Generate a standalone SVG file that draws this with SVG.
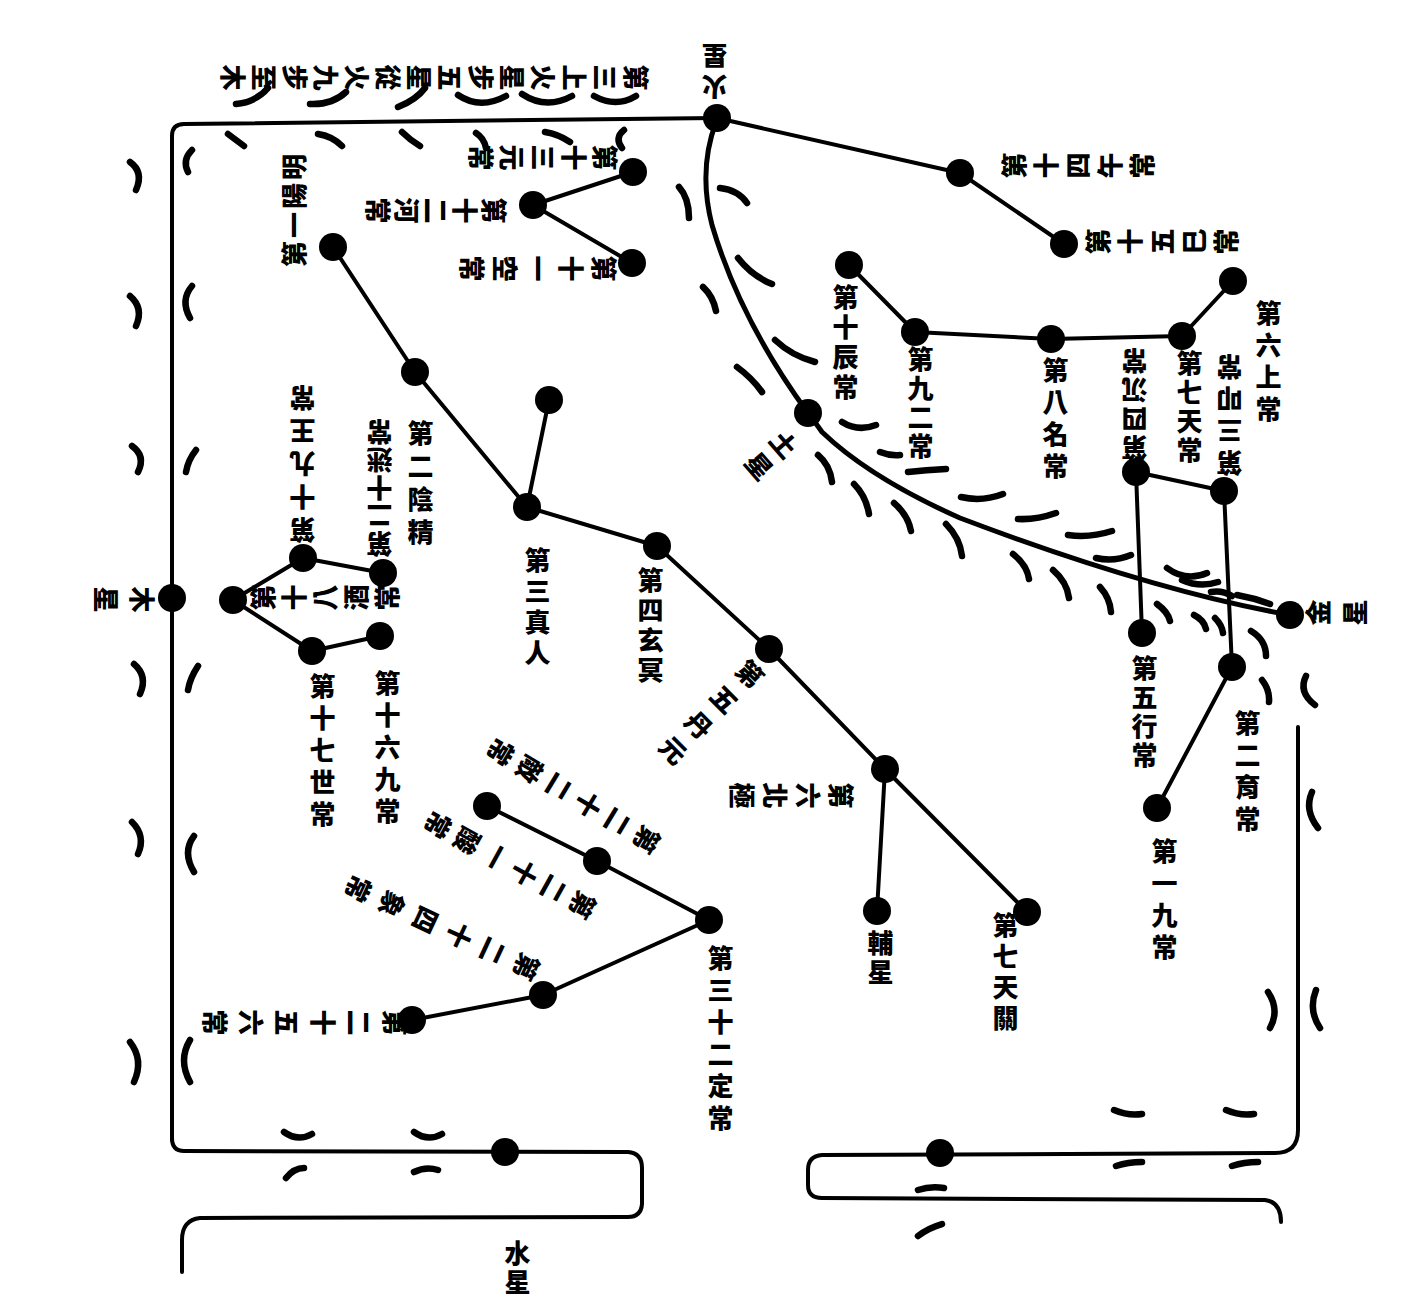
<svg xmlns="http://www.w3.org/2000/svg" width="1424" height="1300" viewBox="0 0 1424 1300">
<style>
.ln{stroke:#000;stroke-width:4;fill:none;stroke-linecap:round;stroke-linejoin:round}
.cv{stroke:#000;stroke-width:5;fill:none;stroke-linecap:round}
.mk{stroke:#000;stroke-width:6.5;fill:none;stroke-linecap:round}
.nd{fill:#000}
.t{font-family:'Liberation Sans','Noto Sans CJK TC',sans-serif;font-weight:900;font-size:26px;fill:#000}
.v{writing-mode:vertical-rl}
.h{dominant-baseline:central}
</style>
<rect width="1424" height="1300" fill="#fff"/>
<g id="connectors">
<path class="ln" d="M172,1140 L172,136 Q172,124 184,124 L717,118"/>
<path class="ln" d="M172,1138 Q172,1151 184,1151 L628,1152 Q642,1153 642,1168 L642,1204 Q641,1217 628,1217 L200,1218 Q182,1220 182,1240 L182,1272"/>
<path class="ln" d="M1298,727 L1298,1130 Q1298,1153 1275,1153 L822,1155 Q808,1156 808,1170 L808,1185 Q808,1198 822,1198 L1265,1200 Q1281,1202 1281,1222"/>
<path class="ln" d="M717,118 L960,173 L1064,244"/>
<path class="cv" d="M716,122 Q698,170 712,225 Q740,320 808,413"/>
<path class="cv" d="M808,413 Q815,422 822,432 Q870,478 960,518 Q1150,590 1290,615"/>
<path class="ln" d="M849,265 L915,332 L1051,339 L1182,336 L1233,281"/>
<path class="ln" d="M1142,633 L1136,472 L1224,491 L1232,667 L1157,808"/>
<path class="ln" d="M633,172 L533,205 L632,263"/>
<path class="ln" d="M333,247 L415,372 L527,507 L657,546 L769,649 L885,769 L1027,912"/>
<path class="ln" d="M527,507 L549,400"/>
<path class="ln" d="M885,769 L877,911"/>
<path class="ln" d="M303,558 L233,600 L312,651 L380,636"/>
<path class="ln" d="M303,558 L383,573"/>
<path class="ln" d="M487,806 L597,861 L709,920 L543,995 L412,1020"/>
</g>
<g id="marks">
<path class="mk" d="M236,104 Q256,102 268,88"/>
<path class="mk" d="M310,104 Q332,105 346,92"/>
<path class="mk" d="M398,107 Q416,100 425,88"/>
<path class="mk" d="M458,95 Q480,110 506,96"/>
<path class="mk" d="M522,94 Q546,110 572,96"/>
<path class="mk" d="M594,96 Q616,108 636,96"/>
<path class="mk" d="M228,134 Q236,140 244,146"/>
<path class="mk" d="M318,134 Q332,136 342,146"/>
<path class="mk" d="M402,132 Q410,140 420,146"/>
<path class="mk" d="M476,133 Q484,138 486,148"/>
<path class="mk" d="M545,132 Q558,134 570,142"/>
<path class="mk" d="M624,130 Q614,138 622,148"/>
<path class="mk" d="M130,162 Q144,172 136,190"/>
<path class="mk" d="M130,296 Q144,308 136,326"/>
<path class="mk" d="M132,446 Q146,456 138,472"/>
<path class="mk" d="M134,664 Q148,676 140,694"/>
<path class="mk" d="M132,822 Q146,836 138,854"/>
<path class="mk" d="M130,1042 Q144,1060 134,1082"/>
<path class="mk" d="M192,150 Q182,160 188,172"/>
<path class="mk" d="M192,286 Q180,300 190,318"/>
<path class="mk" d="M196,450 Q188,460 186,472"/>
<path class="mk" d="M198,666 Q190,678 188,690"/>
<path class="mk" d="M194,836 Q182,852 194,872"/>
<path class="mk" d="M190,1040 Q178,1060 190,1082"/>
<path class="mk" d="M679,187 Q689,198 689,218"/>
<path class="mk" d="M703,287 Q713,296 716,311"/>
<path class="mk" d="M737,367 Q752,378 762,392"/>
<path class="mk" d="M720,188 Q738,190 747,203"/>
<path class="mk" d="M738,258 Q752,276 772,284"/>
<path class="mk" d="M775,340 Q792,356 815,362"/>
<path class="mk" d="M842,422 Q858,432 876,425"/>
<path class="mk" d="M880,452 Q890,456 900,455"/>
<path class="mk" d="M908,472 Q926,470 946,469"/>
<path class="mk" d="M961,497 Q982,502 1003,494"/>
<path class="mk" d="M1018,519 Q1036,520 1056,513"/>
<path class="mk" d="M1068,535 Q1090,538 1112,531"/>
<path class="mk" d="M1096,558 Q1114,562 1131,555"/>
<path class="mk" d="M1167,568 Q1186,582 1207,573"/>
<path class="mk" d="M1182,580 Q1200,588 1218,582"/>
<path class="mk" d="M1211,592 Q1222,590 1232,596"/>
<path class="mk" d="M1237,595 Q1254,598 1270,604"/>
<path class="mk" d="M818,455 Q830,465 832,482"/>
<path class="mk" d="M854,484 Q866,496 869,514"/>
<path class="mk" d="M894,503 Q908,515 911,531"/>
<path class="mk" d="M946,524 Q960,538 962,556"/>
<path class="mk" d="M1013,554 Q1027,565 1029,579"/>
<path class="mk" d="M1053,570 Q1067,582 1069,598"/>
<path class="mk" d="M1100,587 Q1110,598 1111,612"/>
<path class="mk" d="M1157,604 Q1168,612 1170,621"/>
<path class="mk" d="M1194,615 Q1204,620 1206,629"/>
<path class="mk" d="M1215,618 Q1222,625 1223,633"/>
<path class="mk" d="M1251,631 Q1266,640 1266,656"/>
<path class="mk" d="M1262,680 Q1270,690 1269,702"/>
<path class="mk" d="M1306,676 Q1298,692 1315,705"/>
<path class="mk" d="M1312,792 Q1304,810 1318,828"/>
<path class="mk" d="M1316,990 Q1308,1010 1320,1028"/>
<path class="mk" d="M1268,992 Q1280,1010 1270,1028"/>
<path class="mk" d="M1114,1110 Q1128,1116 1142,1114"/>
<path class="mk" d="M1226,1110 Q1240,1116 1254,1114"/>
<path class="mk" d="M1116,1166 Q1128,1162 1142,1162"/>
<path class="mk" d="M1232,1166 Q1244,1162 1258,1162"/>
<path class="mk" d="M918,1190 Q930,1186 944,1188"/>
<path class="mk" d="M918,1236 Q928,1228 942,1224"/>
<path class="mk" d="M284,1132 Q298,1142 312,1134"/>
<path class="mk" d="M414,1132 Q428,1142 442,1134"/>
<path class="mk" d="M286,1178 Q294,1168 304,1168"/>
<path class="mk" d="M414,1172 Q426,1166 438,1170"/>
</g>
<g id="n-huoxing"><circle class="nd" cx="717" cy="118" r="14"/><text class="t v" x="717" y="100" letter-spacing="5" transform="rotate(180 717 100)">火星</text></g>
<g id="n-top-text"><text class="t v" x="649" y="75" letter-spacing="5" transform="rotate(90 649 75)">第三上火星步五星從火九步至木</text></g>
<g id="n14"><circle class="nd" cx="960" cy="173" r="14"/><text class="t v" x="1001" y="168" letter-spacing="6" transform="rotate(-90 1001 168)">第十四午常</text></g>
<g id="n15"><circle class="nd" cx="1064" cy="244" r="14"/><text class="t v" x="1085" y="244" letter-spacing="6" transform="rotate(-90 1085 244)">第十五巳常</text></g>
<g id="n10"><circle class="nd" cx="849" cy="265" r="14"/><text class="t v" x="843" y="284" letter-spacing="4">第十辰常</text></g>
<g id="n9"><circle class="nd" cx="915" cy="332" r="14"/><text class="t v" x="918" y="346" letter-spacing="3">第九二常</text></g>
<g id="n8"><circle class="nd" cx="1051" cy="339" r="14"/><text class="t v" x="1053" y="357" letter-spacing="6">第八名常</text></g>
<g id="n7"><circle class="nd" cx="1182" cy="336" r="14"/><text class="t v" x="1187" y="350" letter-spacing="3">第七天常</text></g>
<g id="n6"><circle class="nd" cx="1233" cy="281" r="14"/><text class="t v" x="1266" y="300" letter-spacing="6">第六上常</text></g>
<g id="n4"><circle class="nd" cx="1136" cy="472" r="14"/><text class="t v" x="1137" y="461" letter-spacing="3" transform="rotate(180 1137 461)">第四沉常</text></g>
<g id="n3"><circle class="nd" cx="1224" cy="491" r="14"/><text class="t v" x="1232" y="476" letter-spacing="6" transform="rotate(180 1232 476)">第三叩常</text></g>
<g id="n5"><circle class="nd" cx="1142" cy="633" r="14"/><text class="t v" x="1142" y="655" letter-spacing="3">第五行常</text></g>
<g id="n2"><circle class="nd" cx="1232" cy="667" r="14"/><text class="t v" x="1245" y="710" letter-spacing="6">第二育常</text></g>
<g id="n1"><circle class="nd" cx="1157" cy="808" r="14"/><text class="t v" x="1162" y="838" letter-spacing="6">第一九常</text></g>
<g id="n-jinxing"><circle class="nd" cx="1290" cy="615" r="14"/><text class="t v" x="1305" y="615" letter-spacing="11" transform="rotate(-90 1305 615)">金星</text></g>
<g id="n-tuxing"><circle class="nd" cx="808" cy="413" r="14"/><text class="t v" x="792" y="434" letter-spacing="7" transform="rotate(49 792 434)">土星</text></g>
<g id="n13"><circle class="nd" cx="633" cy="172" r="14"/><text class="t v" x="618" y="155" letter-spacing="5" transform="rotate(90 618 155)">第十三元常</text></g>
<g id="n12"><circle class="nd" cx="533" cy="205" r="14"/><text class="t v" x="507" y="208" letter-spacing="3" transform="rotate(90 507 208)">第十二河常</text></g>
<g id="n11"><circle class="nd" cx="632" cy="263" r="14"/><text class="t v" x="617" y="266" letter-spacing="7" transform="rotate(90 617 266)">第十一空常</text></g>
<g id="s1"><circle class="nd" cx="333" cy="247" r="14"/><text class="t h" x="295" y="267" letter-spacing="3" transform="rotate(-90 295 267)">第一陽明</text></g>
<g id="s2"><circle class="nd" cx="415" cy="372" r="14"/><text class="t v" x="418" y="420" letter-spacing="7">第二陰精</text></g>
<g id="s-bi"><circle class="nd" cx="549" cy="400" r="14"/></g>
<g id="s3"><circle class="nd" cx="527" cy="507" r="14"/><text class="t v" x="535" y="547" letter-spacing="5">第三真人</text></g>
<g id="s4"><circle class="nd" cx="657" cy="546" r="14"/><text class="t v" x="648" y="567" letter-spacing="4">第四玄冥</text></g>
<g id="s5"><circle class="nd" cx="769" cy="649" r="14"/><text class="t v" x="757" y="663" letter-spacing="10" transform="rotate(45 757 663)">第五丹元</text></g>
<g id="s6"><circle class="nd" cx="885" cy="769" r="14"/><text class="t v" x="854" y="793" letter-spacing="7" transform="rotate(90 854 793)">第六北極</text></g>
<g id="s7"><circle class="nd" cx="1027" cy="912" r="14"/><text class="t v" x="1003" y="912" letter-spacing="5">第七天關</text></g>
<g id="s-fu"><circle class="nd" cx="877" cy="911" r="14"/><text class="t v" x="878" y="930" letter-spacing="3">輔星</text></g>
<g id="n-muxing"><circle class="nd" cx="172" cy="598" r="14"/><text class="t v" x="155" y="597" letter-spacing="10" transform="rotate(90 155 597)">木星</text></g>
<g id="n18"><circle class="nd" cx="233" cy="600" r="14"/><text class="t v" x="250" y="600" letter-spacing="5" transform="rotate(-90 250 600)">第十八酒常</text></g>
<g id="n19"><circle class="nd" cx="303" cy="558" r="14"/><text class="t v" x="305" y="543" letter-spacing="7" transform="rotate(180 305 543)">第十九王常</text></g>
<g id="n20"><circle class="nd" cx="383" cy="573" r="14"/><text class="t v" x="382" y="557" letter-spacing="2" transform="rotate(180 382 557)">第二十迷常</text></g>
<g id="n17"><circle class="nd" cx="312" cy="651" r="14"/><text class="t v" x="320" y="673" letter-spacing="6">第十七世常</text></g>
<g id="n16"><circle class="nd" cx="380" cy="636" r="14"/><text class="t v" x="385" y="670" letter-spacing="6">第十六九常</text></g>
<g id="n22"><circle class="nd" cx="487" cy="806" r="14"/><text class="t v" x="659" y="844" letter-spacing="8" transform="rotate(121 659 844)">第二十二敵常</text></g>
<g id="n21"><circle class="nd" cx="597" cy="861" r="14"/><text class="t v" x="595" y="909" letter-spacing="7" transform="rotate(119 595 909)">第二十一酸常</text></g>
<g id="n23"><circle class="nd" cx="709" cy="920" r="14"/><text class="t v" x="718" y="945" letter-spacing="6">第三十二定常</text></g>
<g id="n24"><circle class="nd" cx="543" cy="995" r="14"/><text class="t v" x="539" y="970" letter-spacing="11" transform="rotate(115 539 970)">第二十四象常</text></g>
<g id="n25"><circle class="nd" cx="412" cy="1020" r="14"/><text class="t v" x="408" y="1020" letter-spacing="10" transform="rotate(90 408 1020)">第二十五六常</text></g>
<g id="n-shuixing"><circle class="nd" cx="505" cy="1152" r="14"/><text class="t v" x="515" y="1240" letter-spacing="3">水星</text></g>
<g id="n-right-bottom"><circle class="nd" cx="940" cy="1153" r="14"/></g>
</svg>
